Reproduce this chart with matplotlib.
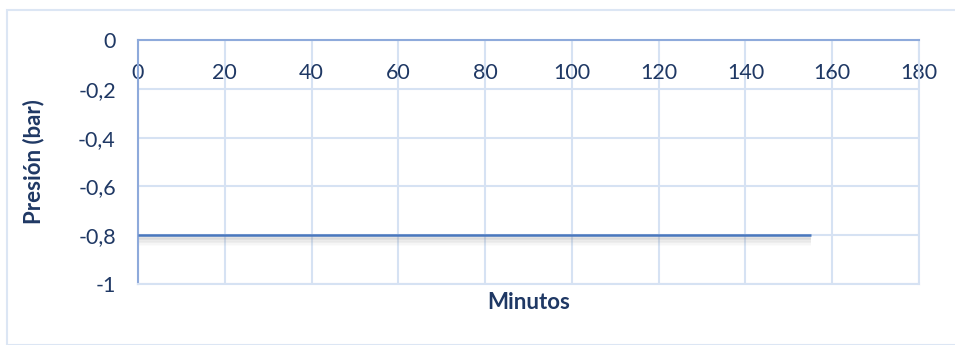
import matplotlib.pyplot as plt
from matplotlib.patches import Rectangle
from matplotlib.ticker import FuncFormatter

minutos = [0, 155]
presion = [-0.8, -0.8]
x_ticks = [0, 20, 40, 60, 80, 100, 120, 140, 160, 180]
y_ticks = [0, -0.2, -0.4, -0.6, -0.8, -1]

TXT = "#1F3864"
GRID = "#D6E2F3"
AXIS = "#8EAADB"
LINE = "#4A78BE"

plt.rcParams['font.family'] = ['Lato', 'DejaVu Sans']

fig = plt.figure(figsize=(9.55, 3.45), dpi=100)
ax = fig.add_axes([138/955, 1 - 284/345, 781/955, 244/345])

# marco del gráfico
fig.patches.append(Rectangle((7/955, 0), 1, 1 - 10/345, transform=fig.transFigure,
                             fill=False, edgecolor="#DCE6F4", linewidth=1.5))

# sombra bajo la línea
for off, a in [(1.5, 0.12), (3, 0.10), (4.5, 0.08), (6, 0.06), (7.5, 0.04), (9, 0.02)]:
    ax.plot(minutos, [v - off / 244 for v in presion], color="#7F7F7F",
            alpha=a, linewidth=3, solid_capstyle="butt", zorder=2)
ax.plot(minutos, presion, color=LINE, linewidth=1.8, solid_capstyle="butt", zorder=3)

ax.set_xlim(0, 180)
ax.set_ylim(-1, 0)
ax.set_xticks(x_ticks)
ax.set_yticks(y_ticks)
ax.grid(True, color=GRID, linewidth=1.5)
ax.set_axisbelow(True)

for s in ["right", "bottom"]:
    ax.spines[s].set_color(GRID)
    ax.spines[s].set_linewidth(1.5)
ax.spines["left"].set_color(AXIS)
ax.spines["top"].set_color(AXIS)
ax.spines["left"].set_linewidth(1.5)
ax.spines["top"].set_linewidth(1.5)

ax.xaxis.tick_top()
ax.tick_params(axis='x', length=0, pad=-31, labelsize=15.5, labelcolor=TXT)
ax.tick_params(axis='y', length=0, pad=16, labelsize=15.5, labelcolor=TXT)
ax.yaxis.set_major_formatter(FuncFormatter(lambda v, p: ("%g" % v).replace(".", ",")))

ax.set_ylabel("Presión (bar)", fontsize=16, fontweight="bold", color=TXT, labelpad=24)
ax.set_xlabel("Minutos", fontsize=16, fontweight="bold", color=TXT, labelpad=6)

fig.savefig("out.png", dpi=100)
